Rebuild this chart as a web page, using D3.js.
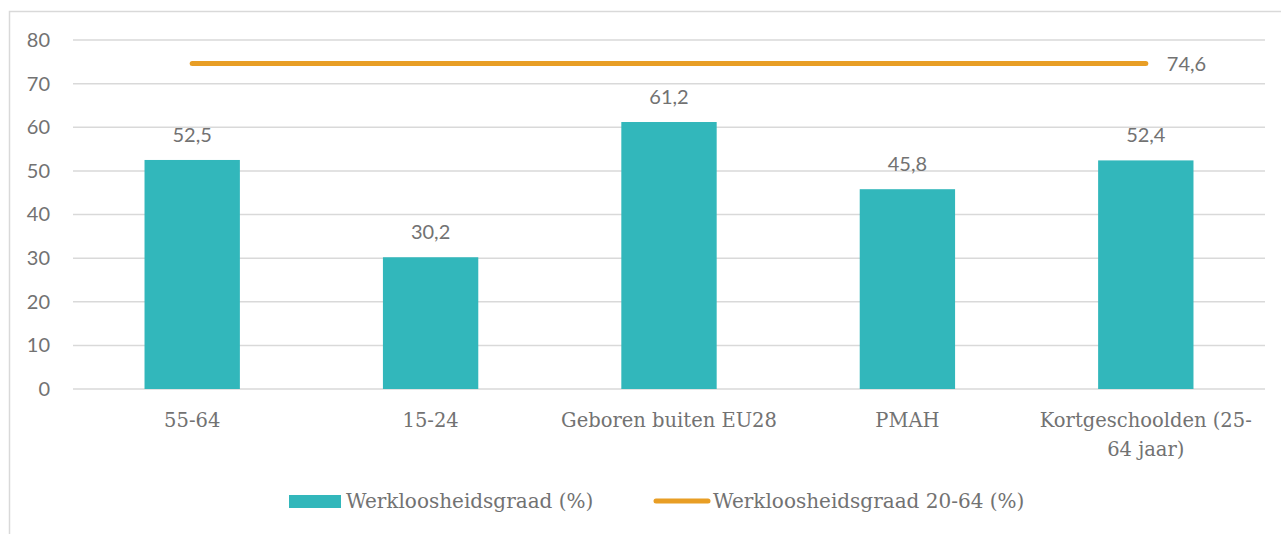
<!DOCTYPE html>
<html>
<head>
<meta charset="utf-8">
<script src="https://cdn.jsdelivr.net/npm/d3@7"></script>
<style>
  body { margin: 0; background: #fff; }
  .tick text { font-family: Lato, "Open Sans", sans-serif; }
</style>
</head>
<body>
<svg width="1281" height="534"></svg>
<script>
// data
const categories = ["55-64", "15-24", "Geboren buiten EU28", "PMAH", "Kortgeschoolden (25-64 jaar)"];
const barValues = [52.5, 30.2, 61.2, 45.8, 52.4];
const lineValue = 74.6;
const yTicks = [0, 10, 20, 30, 40, 50, 60, 70, 80];
const seriesNames = ["Werkloosheidsgraad (%)", "Werkloosheidsgraad 20-64 (%)"];

const teal = "#32b7bb", orange = "#e89e25", grey = "#727272", grid = "#d9d9d9";
const svg = d3.select("svg");

// outer frame
svg.append("path")
  .attr("d", "M9.5,540 V11.5 H1290")
  .attr("fill", "none").attr("stroke", grid).attr("stroke-width", 1.5);

const x = d3.scaleBand().domain(categories).range([73, 1265]).paddingInner(0.6).paddingOuter(0.3);
const y = d3.scaleLinear().domain([0, 80]).range([389, 40]);

// gridlines
svg.append("g").selectAll("line").data(yTicks).enter().append("line")
  .attr("x1", 73).attr("x2", 1265)
  .attr("y1", d => y(d)).attr("y2", d => y(d))
  .attr("stroke", grid).attr("stroke-width", 1.5);

// y axis labels
const yAxis = svg.append("g").attr("transform", "translate(50,0)")
  .call(d3.axisLeft(y).tickValues(yTicks).tickSize(0).tickPadding(0));
yAxis.select(".domain").remove();
yAxis.selectAll("text").attr("font-size", 20).attr("fill", grey);

// bars
svg.append("g").selectAll("rect").data(barValues).enter().append("rect")
  .attr("x", (d, i) => x(categories[i]))
  .attr("width", x.bandwidth())
  .attr("y", d => y(d))
  .attr("height", d => y(0) - y(d))
  .attr("fill", teal);

// bar labels
svg.append("g").selectAll("text").data(barValues).enter().append("text")
  .attr("x", (d, i) => x(categories[i]) + x.bandwidth() / 2)
  .attr("y", d => y(d) - 18)
  .attr("text-anchor", "middle")
  .attr("font-family", "Lato, sans-serif").attr("font-size", 20).attr("fill", grey)
  .text(d => d.toFixed(1).replace(".", ","));

// line series
const cx = c => x(c) + x.bandwidth() / 2;
svg.append("line")
  .attr("x1", cx(categories[0])).attr("x2", cx(categories[categories.length - 1]))
  .attr("y1", y(lineValue)).attr("y2", y(lineValue))
  .attr("stroke", orange).attr("stroke-width", 5).attr("stroke-linecap", "round");
svg.append("text")
  .attr("x", cx(categories[categories.length - 1]) + 21)
  .attr("y", y(lineValue) + 7)
  .attr("font-family", "Lato, sans-serif").attr("font-size", 20).attr("fill", grey)
  .text(lineValue.toFixed(1).replace(".", ","));

// category labels (wrapped like the original)
const catLines = [["55-64"], ["15-24"], ["Geboren buiten EU28"], ["PMAH"], ["Kortgeschoolden (25-", "64 jaar)"]];
svg.append("g").selectAll("text").data(categories).enter().append("text")
  .attr("x", d => cx(d))
  .attr("y", 427)
  .attr("text-anchor", "middle")
  .attr("font-family", "'DejaVu Serif', serif").attr("font-size", 19.5).attr("fill", grey)
  .each(function (d, i) {
    d3.select(this).selectAll("tspan").data(catLines[i]).enter().append("tspan")
      .attr("x", cx(d)).attr("dy", (t, j) => j === 0 ? 0 : 29).text(t => t);
  });

// legend
const lg = svg.append("g");
lg.append("rect").attr("x", 289).attr("y", 495).attr("width", 52).attr("height", 13).attr("fill", teal);
lg.append("text").attr("x", 346).attr("y", 508)
  .attr("font-family", "'DejaVu Serif', serif").attr("font-size", 20).attr("fill", grey)
  .text(seriesNames[0]);
lg.append("line").attr("x1", 656).attr("x2", 708).attr("y1", 501).attr("y2", 501)
  .attr("stroke", orange).attr("stroke-width", 5).attr("stroke-linecap", "round");
lg.append("text").attr("x", 713).attr("y", 508)
  .attr("font-family", "'DejaVu Serif', serif").attr("font-size", 20).attr("fill", grey)
  .text(seriesNames[1]);
</script>
</body>
</html>
